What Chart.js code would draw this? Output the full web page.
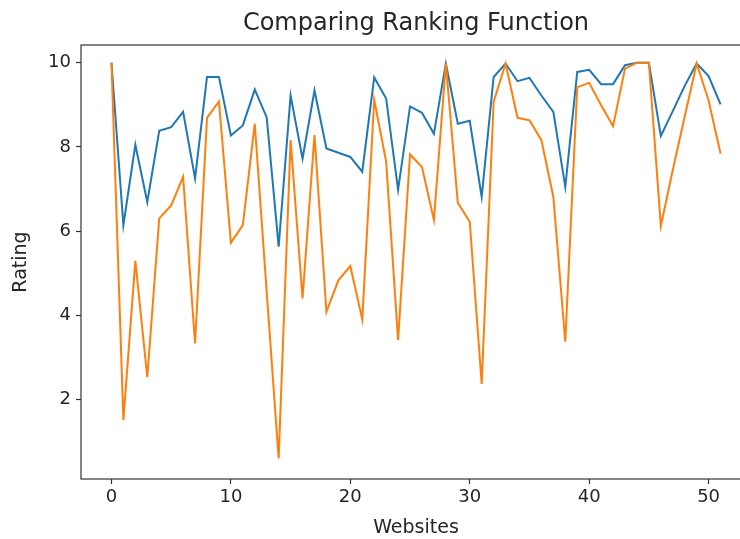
<!DOCTYPE html>
<html>
<head>
<meta charset="utf-8">
<script src="https://cdn.jsdelivr.net/npm/chart.js@4.4.1/dist/chart.umd.min.js"></script>
<style>
  html, body { margin: 0; padding: 0; background: #fff; overflow: hidden; width: 740px; height: 539px; }
  #wrap { position: absolute; left: 0; top: 0; width: 760px; height: 539px; }
</style>
</head>
<body>
<div id="wrap"><canvas id="c" width="760" height="539"></canvas></div>
<script>
// ---- data ----
const websites = Array.from({length: 52}, (_, i) => i); // website index 0..51
const seriesBlue = [10.0, 6.14, 8.05, 6.69, 8.38, 8.47, 8.83, 7.25, 9.66, 9.66,
                    8.27, 8.51, 9.36, 8.70, 5.63, 9.22, 7.72, 9.34, 7.96, 7.86,
                    7.76, 7.41, 9.65, 9.15, 6.98, 8.96, 8.81, 8.31, 9.98, 8.55,
                    8.62, 6.81, 9.66, 9.98, 9.56, 9.64, 9.22, 8.83, 7.05, 9.78,
                    9.83, 9.49, 9.49, 9.94, 10.0, 10.0, 8.26, 8.85, 9.45, 9.98,
                    9.68, 9.01];
const seriesOrange = [10.0, 1.51, 5.29, 2.53, 6.30, 6.61, 7.29, 3.33, 8.69, 9.08,
                      5.72, 6.14, 8.55, 4.55, 0.60, 8.16, 4.40, 8.28, 4.08, 4.83,
                      5.17, 3.90, 9.12, 7.65, 3.41, 7.82, 7.52, 6.26, 9.98, 6.67,
                      6.22, 2.37, 9.07, 9.98, 8.69, 8.63, 8.16, 6.81, 3.37, 9.42,
                      9.52, 8.99, 8.49, 9.86, 10.0, 10.0, 6.12, 7.45, 8.72, 9.98,
                      9.10, 7.84];
const xTicks = [0, 10, 20, 30, 40, 50];
const yTicks = [2, 4, 6, 8, 10];
const titleText = 'Comparing Ranking Function';
const xLabel = 'Websites';
const yLabel = 'Rating';

const FONT = "'DejaVu Sans', sans-serif";
const TEXT = '#262626';

const framePlugin = {
  id: 'frame',
  afterDraw(chart) {
    const {ctx, chartArea: a} = chart;
    ctx.save();
    ctx.strokeStyle = '#333';
    ctx.lineWidth = 1.2;
    ctx.strokeRect(a.left, a.top, a.right - a.left, a.bottom - a.top);
    ctx.fillStyle = TEXT;
    ctx.font = "24px " + FONT;
    ctx.textAlign = 'center';
    ctx.textBaseline = 'alphabetic';
    ctx.fillText(titleText, (a.left + a.right) / 2, 30);
    ctx.restore();
  }
};

new Chart(document.getElementById('c'), {
  type: 'line',
  data: {
    datasets: [
      {
        label: 'blue',
        data: websites.map((x, i) => ({x, y: seriesBlue[i]})),
        borderColor: '#1f77b4',
        backgroundColor: '#1f77b4',
        borderWidth: 2,
        pointRadius: 0,
        tension: 0,
        order: 2
      },
      {
        label: 'orange',
        data: websites.map((x, i) => ({x, y: seriesOrange[i]})),
        borderColor: '#ff7f0e',
        backgroundColor: '#ff7f0e',
        borderWidth: 2,
        pointRadius: 0,
        tension: 0,
        order: 1
      }
    ]
  },
  options: {
    responsive: false,
    animation: false,
    devicePixelRatio: 1,
    layout: { padding: { left: 0, top: 45, right: 9, bottom: 0 } },
    plugins: { legend: { display: false }, tooltip: { enabled: false }, title: { display: false } },
    scales: {
      x: {
        type: 'linear',
        min: -2.55,
        max: 53.55,
        afterFit(s) { s.height = 60; },
        afterBuildTicks(s) { s.ticks = xTicks.map(v => ({value: v})); },
        ticks: { font: { family: FONT, size: 18 }, color: TEXT, padding: 3, maxRotation: 0 },
        grid: { display: true, drawOnChartArea: false, drawTicks: true, tickLength: 5, tickColor: '#333', tickWidth: 1.2 },
        border: { display: false },
        title: { display: true, text: xLabel, font: { family: FONT, size: 19 }, color: TEXT, padding: { top: 0, bottom: 0 } }
      },
      y: {
        min: 0.11,
        max: 10.42,
        afterFit(s) { s.width = 81; },
        afterBuildTicks(s) { s.ticks = yTicks.map(v => ({value: v})); },
        ticks: { font: { family: FONT, size: 18 }, color: TEXT, padding: 5 },
        grid: { display: true, drawOnChartArea: false, drawTicks: true, tickLength: 5, tickColor: '#333', tickWidth: 1.2 },
        border: { display: false },
        title: { display: true, text: yLabel, font: { family: FONT, size: 19 }, color: TEXT, padding: { top: 10, bottom: 0 } }
      }
    }
  },
  plugins: [framePlugin]
});
</script>
</body>
</html>
